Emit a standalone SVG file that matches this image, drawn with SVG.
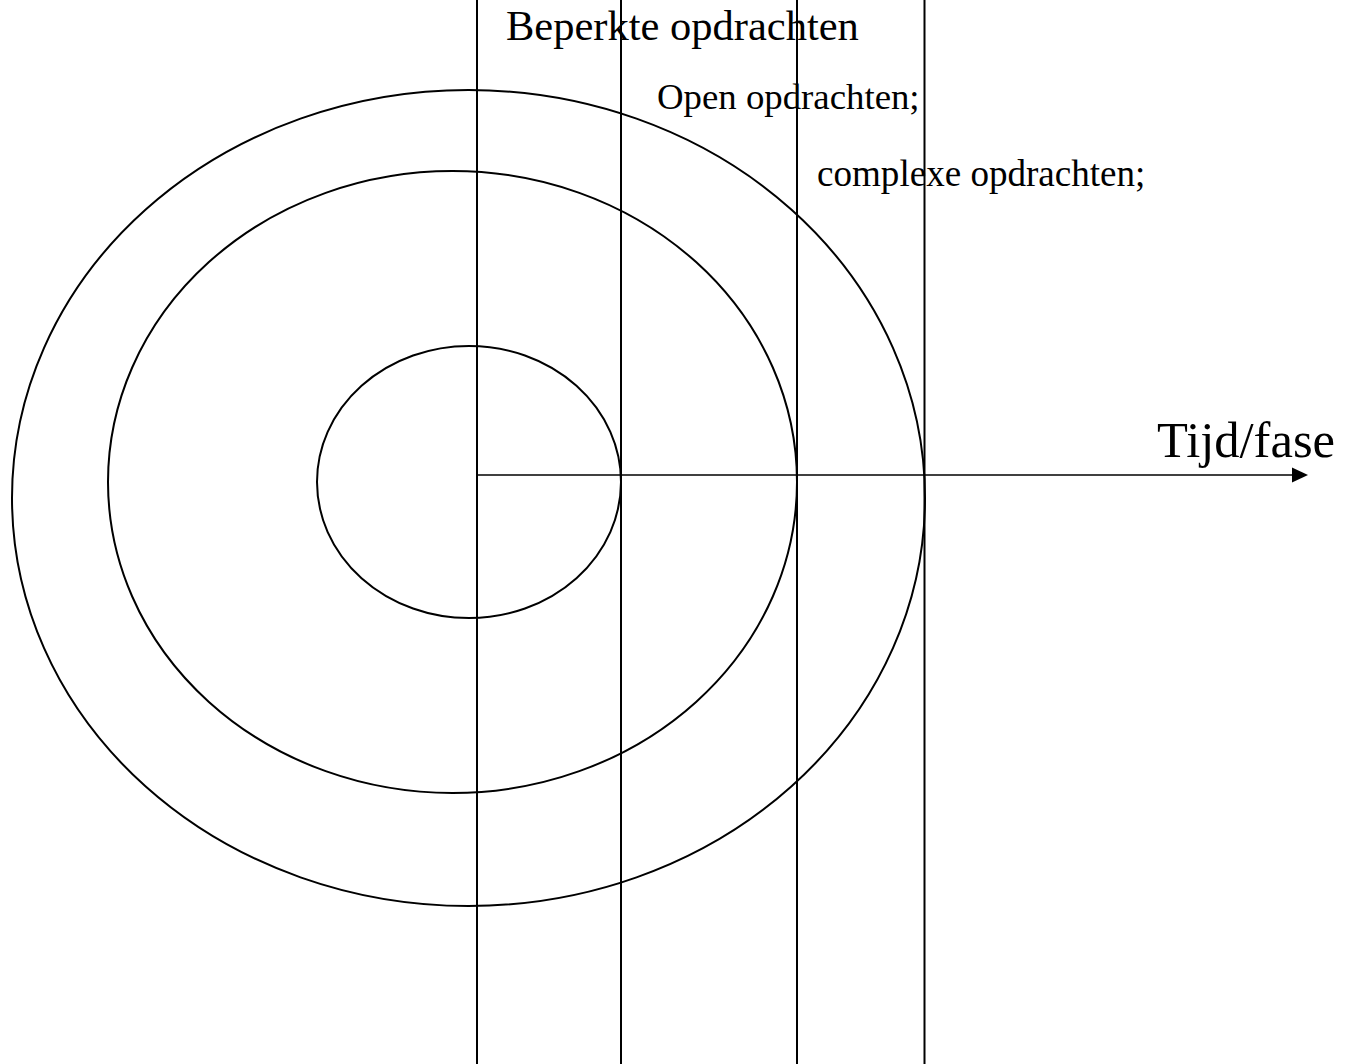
<svg xmlns="http://www.w3.org/2000/svg" width="1359" height="1064" viewBox="0 0 1359 1064">
<style>
.ring{fill:none;stroke:#000;stroke-width:2}
.col{stroke:#000;stroke-width:2}
.t{font-family:"Liberation Serif","Times New Roman",serif;fill:#000}
</style>
<rect width="1359" height="1064" fill="#fff"/>
<g id="rings">
<ellipse id="outer" class="ring" cx="468.5" cy="498" rx="456.5" ry="408"/>
<ellipse id="middle" class="ring" cx="452.5" cy="482" rx="344.5" ry="311"/>
<ellipse id="inner" class="ring" cx="469" cy="482" rx="152" ry="136"/>
</g>
<g id="connectors">
<line class="col" x1="477" y1="0" x2="477" y2="1064"/>
<line class="col" x1="621" y1="0" x2="621" y2="1064"/>
<line class="col" x1="797" y1="0" x2="797" y2="1064"/>
<line class="col" x1="924.5" y1="0" x2="924.5" y2="1064"/>
<line stroke="#000" stroke-width="1.6" x1="477" y1="475" x2="1294" y2="475"/>
<polygon points="1292,467.5 1308,475 1292,482.5" fill="#000"/>
</g>
<g id="labels">
<text class="t" x="506" y="40" font-size="42.5">Beperkte opdrachten</text>
<text class="t" x="657" y="109" font-size="36.8">Open opdrachten;</text>
<text class="t" x="817" y="186" font-size="37.1">complexe opdrachten;</text>
<text class="t" x="1157" y="457" font-size="50.6">Tijd/fase</text>
</g>
</svg>
